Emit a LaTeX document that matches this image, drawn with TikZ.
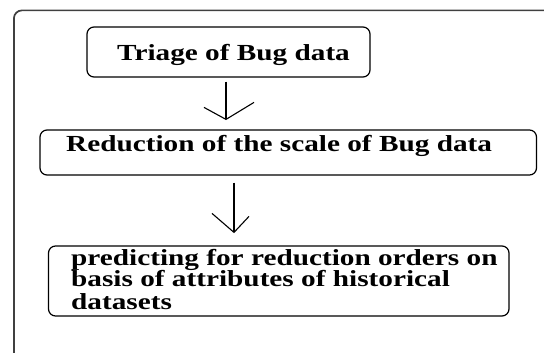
\documentclass[tikz,border=0pt]{standalone}
\usepackage{fontspec}
\setmainfont{Liberation Serif}
\begin{document}
\begin{tikzpicture}[x=1pt,y=-1pt,
  stagebox/.style={draw=black, line width=1.2pt, rounded corners=7pt,
    inner sep=0pt, minimum width=#1},
  stagetext/.style={anchor=base west, inner sep=0pt,
    font=\fontsize{23}{22.2}\selectfont\bfseries},
  flowline/.style={line width=1.1pt, draw=black},
  frameline/.style={line width=1.7pt, draw=black!75, rounded corners=8pt}]
\useasboundingbox (0,0) rectangle (544,353);
\clip (0,0) rectangle (544,353);

% outer frame (open towards the right and the bottom)
\draw[frameline] (13.9,370) -- (13.9,10.4) -- (570,10.4);

% process stages
\node[stagebox=283pt, minimum height=50pt] (b1) at (228.5,52) {};
\node[stagebox=496.5pt, minimum height=45pt] (b2) at (288.25,152.5) {};
\node[stagebox=460.5pt, minimum height=70pt] (b3) at (278.75,281) {};

\node[stagetext] (t1) at (117,61) {\scalebox{1.272}[1]{Triage of Bug data}};
\node[stagetext] (t2) at (66,151.5) {\scalebox{1.272}[1]{Reduction of the scale of Bug data}};
\node[stagetext] (t3a) at (71,265.3) {\scalebox{1.272}[1]{predicting for reduction orders on}};
\node[stagetext] (t3b) at (71,286.8) {\scalebox{1.272}[1]{basis of attributes of historical}};
\node[stagetext] (t3c) at (71,309.7) {\scalebox{1.272}[1]{datasets}};

% connectors with open V heads
\coordinate (a1s) at ([xshift=-2.5pt,yshift=-4pt]b1.south);
\coordinate (a1e) at ([yshift=10pt]a1s |- b2.north);
\draw[flowline] (a1s) -- (a1e);
\draw[flowline] ([xshift=-22pt,yshift=12pt]a1e) -- (a1e) -- ([xshift=28pt,yshift=17pt]a1e);

\coordinate (a2s) at ([xshift=-54.25pt,yshift=-7pt]b2.south);
\coordinate (a2e) at ([yshift=13pt]a2s |- b3.north);
\draw[flowline] (a2s) -- (a2e);
\draw[flowline] ([xshift=-22pt,yshift=19pt]a2e) -- (a2e) -- ([xshift=15pt,yshift=16pt]a2e);
\end{tikzpicture}
\end{document}
